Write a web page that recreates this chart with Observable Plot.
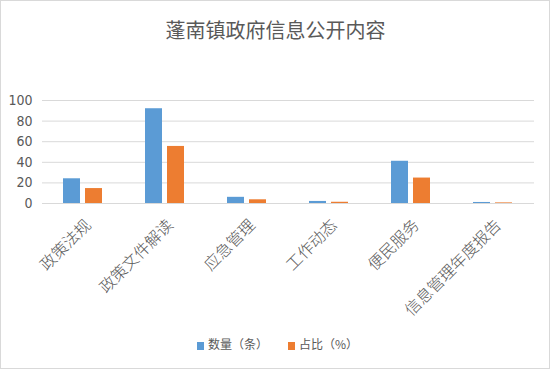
<!DOCTYPE html>
<html>
<head>
<meta charset="utf-8">
<script src="https://cdn.jsdelivr.net/npm/d3@7"></script>
<script src="https://cdn.jsdelivr.net/npm/@observablehq/plot@0.6"></script>
<style>
  html, body { margin: 0; padding: 0; background: #fff; }
  body { width: 551px; height: 372px; position: relative; overflow: hidden; font-family: "Noto Sans CJK SC", sans-serif; }
  #frame { position: absolute; left: 0; top: 0; width: 548px; height: 367px; border: 1px solid #d9d9d9; }
  #title { position: absolute; left: 0; top: 18px; width: 551px; text-align: center; font-size: 20px; line-height: 24px; color: #595959; }
  #chart { position: absolute; left: 0; top: 60px; }
  #legend { position: absolute; left: 2px; top: 335px; width: 551px; display: flex; justify-content: center; gap: 20px; font-size: 12px; line-height: 18px; color: #595959; }
  .item { display: flex; align-items: center; }
  .sw { width: 7px; height: 8px; margin-right: 4px; margin-top: 3px; }
</style>
</head>
<body>
<div id="frame"></div>
<div id="title"></div>
<div id="chart"></div>
<div id="legend"></div>
<script>
const titleText = "蓬南镇政府信息公开内容";
const categories = ["政策法规", "政策文件解读", "应急管理", "工作动态", "便民服务", "信息管理年度报告"];
const counts = [24, 92, 6, 2, 41, 1];
const shares = [14.5, 55.4, 3.6, 1.2, 24.7, 0.6];
const seriesNames = ["数量（条）", "占比（%）"];
const colors = ["#5b9bd5", "#ed7d31"];
const yTicks = [0, 20, 40, 60, 80, 100];

const data = [];
categories.forEach((c, i) => {
  data.push({category: c, series: seriesNames[0], value: counts[i]});
  data.push({category: c, series: seriesNames[1], value: shares[i]});
});

document.getElementById("title").textContent = titleText;

const chart = Plot.plot({
  width: 551,
  height: 270,
  marginTop: 40,
  marginBottom: 127,
  marginLeft: 41,
  marginRight: 16,
  style: {background: "transparent", color: "#595959"},
  fx: {domain: categories, padding: 0, label: null},
  x: {domain: seriesNames, paddingInner: 0.217, paddingOuter: 0.898, axis: null},
  y: {domain: [0, 100], label: null},
  color: {domain: seriesNames, range: colors},
  marks: [
    Plot.gridY(yTicks, {stroke: "#d9d9d9", strokeOpacity: 1, strokeWidth: 1}),
    Plot.barY(data, {fx: "category", x: "series", y: "value", fill: "series"}),
    Plot.axisY(yTicks, {tickSize: 0, tickPadding: 10, label: null, fontSize: 14, fontFamily: "'Liberation Sans Narrow', 'DejaVu Sans Condensed', sans-serif", fill: "#595959"}),
    Plot.axisFx({anchor: "bottom", tickRotate: -45, tickSize: 0, tickPadding: 19, dx: 5, label: null, lineWidth: 40, textOverflow: null, fontSize: 16, fontWeight: 300, fontFamily: "'Noto Sans CJK SC', sans-serif", fill: "#595959"})
  ]
});
document.getElementById("chart").appendChild(chart);

const legend = document.getElementById("legend");
seriesNames.forEach((s, i) => {
  const item = document.createElement("div");
  item.className = "item";
  const sw = document.createElement("span");
  sw.className = "sw";
  sw.style.background = colors[i];
  const t = document.createElement("span");
  t.textContent = s;
  item.appendChild(sw);
  item.appendChild(t);
  legend.appendChild(item);
});
</script>
</body>
</html>
